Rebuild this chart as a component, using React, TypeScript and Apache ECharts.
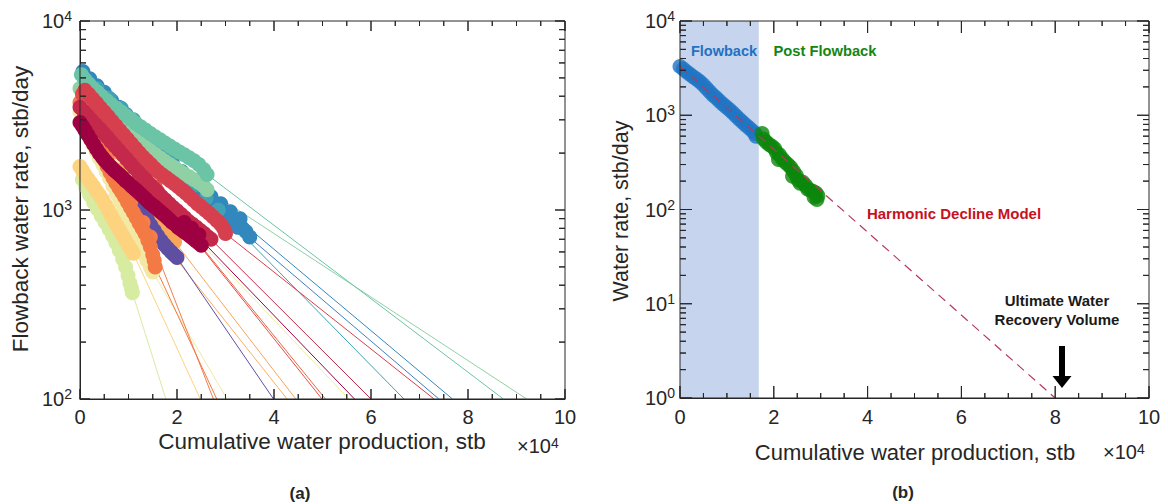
import React, { useEffect, useRef } from "react";
import * as echarts from "echarts";

// ---------- Data (x: cumulative water production in 1e4 stb, y: rate in stb/day) ----------
const xTickValues = [0, 2, 4, 6, 8, 10];
const xMinorTickValues = [0.5, 1, 1.5, 2.5, 3, 3.5, 4.5, 5, 5.5, 6.5, 7, 7.5, 8.5, 9, 9.5];
const yMajorA = [100, 1000, 10000];
const yMinorA = [200, 300, 400, 500, 600, 700, 800, 900, 2000, 3000, 4000, 5000, 6000, 7000, 8000, 9000];
const yMajorB = [1, 10, 100, 1000, 10000];
const yMinorB = [2, 3, 4, 5, 6, 7, 8, 9, 20, 30, 40, 50, 60, 70, 80, 90, 200, 300, 400, 500, 600, 700, 800, 900, 2000, 3000, 4000, 5000, 6000, 7000, 8000, 9000];

const wellBlue2 = [[0.15, 4700], [0.4, 4150], [0.65, 3650], [0.9, 3200], [1.15, 2800], [1.4, 2450], [1.65, 2100], [1.9, 1800], [2.15, 1520], [2.4, 1300], [2.65, 1120], [2.9, 980], [3.1, 880], [3.25, 810]];
const wellBlue1 = [[0.06, 5400], [0.2, 4950], [0.35, 4550], [0.5, 4200], [0.65, 3800], [0.8, 3500], [0.95, 3200], [1.1, 2900], [1.25, 2650], [1.4, 2420], [1.55, 2200], [1.7, 1980], [1.85, 1760], [1.95, 1620], [2.05, 1520], [2.15, 1420], [2.25, 1340], [2.35, 1270], [2.45, 1200], [2.55, 1150], [2.65, 1100], [2.75, 1060], [2.85, 1010], [2.95, 960], [3.05, 930], [3.15, 890], [3.25, 850], [3.35, 800], [3.42, 770], [3.5, 720], [3.3, 900], [3.1, 980], [2.9, 1080], [2.7, 1180]];
const wellTealBlue = [[0.1, 4900], [0.35, 4400], [0.6, 3900], [0.85, 3450], [1.1, 3000], [1.35, 2600], [1.6, 2250], [1.85, 1900], [2.1, 1600], [2.35, 1350], [2.6, 1150], [2.85, 1000]];
const wellGreenB = [[0.0, 4400], [0.08, 4150], [0.16, 3950], [0.25, 3750], [0.35, 3550], [0.45, 3380], [0.55, 3200], [0.65, 3020], [0.75, 2870], [0.85, 2720], [0.95, 2580], [1.05, 2460], [1.15, 2350], [1.25, 2250], [1.35, 2160], [1.45, 2060], [1.55, 1970], [1.65, 1890], [1.75, 1810], [1.85, 1740], [1.95, 1680], [2.05, 1610], [2.15, 1550], [2.25, 1500], [2.35, 1450], [2.45, 1400], [2.55, 1340], [2.62, 1280]];
const wellGreenA = [[0.03, 5200], [0.1, 4900], [0.18, 4650], [0.27, 4400], [0.36, 4200], [0.45, 4000], [0.55, 3800], [0.65, 3600], [0.75, 3450], [0.85, 3300], [0.95, 3150], [1.05, 3020], [1.15, 2880], [1.25, 2760], [1.35, 2650], [1.45, 2540], [1.55, 2440], [1.65, 2350], [1.75, 2260], [1.85, 2180], [1.95, 2100], [2.05, 2030], [2.15, 1960], [2.25, 1890], [2.35, 1820], [2.45, 1740], [2.55, 1640], [2.62, 1540]];
const wellLightGreen = [[0.05, 1450], [0.12, 1320], [0.2, 1200], [0.28, 1100], [0.36, 1010], [0.44, 930], [0.52, 860], [0.6, 790], [0.67, 730], [0.74, 670], [0.81, 610], [0.88, 550], [0.94, 500], [0.99, 450], [1.03, 410], [1.06, 385], [1.08, 365]];
const wellPaleGreen = [[0.2, 2600], [0.5, 2100], [0.8, 1700], [1.1, 1400], [1.4, 1150], [1.7, 980], [2.0, 860], [2.25, 780]];
const wellLightYellow = [[0.0, 3300], [0.06, 3000], [0.12, 2700], [0.19, 2450], [0.26, 2230], [0.33, 2050], [0.4, 1880], [0.47, 1740], [0.54, 1600], [0.61, 1470], [0.68, 1340], [0.75, 1220], [0.82, 1110], [0.89, 1010], [0.96, 920], [1.03, 840], [1.1, 770], [1.17, 700], [1.24, 640], [1.31, 585], [1.38, 540], [1.45, 500], [1.5, 470]];
const wellYellow = [[0.0, 1700], [0.05, 1620], [0.1, 1540], [0.16, 1470], [0.22, 1400], [0.28, 1330], [0.34, 1260], [0.4, 1200], [0.46, 1140], [0.52, 1070], [0.58, 1000], [0.64, 940], [0.7, 880], [0.76, 830], [0.82, 780], [0.88, 735], [0.94, 690], [1.0, 650], [1.05, 620], [1.1, 590]];
const wellLightOrange1 = [[0.3, 2300], [0.5, 1950], [0.7, 1650], [0.9, 1400], [1.1, 1180], [1.3, 980], [1.4, 900], [1.5, 820], [1.58, 770], [1.65, 720], [1.72, 680], [1.76, 650]];
const wellLightOrange2 = [[0.4, 2400], [0.65, 2000], [0.9, 1650], [1.15, 1350], [1.4, 1100], [1.6, 930], [1.7, 860], [1.8, 780], [1.88, 730], [1.95, 680]];
const wellPurple = [[0.9, 1350], [0.97, 1270], [1.04, 1200], [1.11, 1130], [1.18, 1070], [1.25, 1010], [1.32, 950], [1.39, 890], [1.46, 830], [1.53, 780], [1.6, 730], [1.67, 690], [1.74, 655], [1.81, 625], [1.88, 600], [1.94, 580], [2.0, 560]];
const wellOrange2 = [[0.05, 3400], [0.3, 2500], [0.55, 1900], [0.8, 1450], [1.05, 1120], [1.3, 860], [1.45, 720]];
const wellOrange1 = [[0.0, 3700], [0.05, 3450], [0.1, 3200], [0.15, 2980], [0.2, 2780], [0.26, 2580], [0.32, 2380], [0.38, 2180], [0.44, 2000], [0.5, 1840], [0.56, 1700], [0.62, 1580], [0.68, 1480], [0.74, 1390], [0.8, 1310], [0.86, 1240], [0.92, 1170], [0.98, 1100], [1.04, 1030], [1.1, 970], [1.16, 910], [1.22, 850], [1.28, 800], [1.34, 750], [1.4, 690], [1.45, 640], [1.5, 580], [1.53, 540], [1.55, 500]];
const wellRedOrange2 = [[0.1, 3800], [0.35, 3200], [0.6, 2700], [0.85, 2250], [1.1, 1850], [1.35, 1520], [1.6, 1250], [1.85, 1020], [2.05, 880], [2.2, 800]];
const wellRedOrange1 = [[0.05, 4100], [0.3, 3450], [0.55, 2900], [0.8, 2400], [1.05, 1980], [1.3, 1620], [1.55, 1320], [1.8, 1080], [2.0, 920], [2.12, 840]];
const wellRed = [[0.1, 4300], [0.18, 4100], [0.26, 3880], [0.34, 3680], [0.42, 3480], [0.5, 3300], [0.58, 3120], [0.66, 2950], [0.74, 2790], [0.82, 2640], [0.9, 2500], [0.98, 2370], [1.06, 2240], [1.14, 2120], [1.22, 2010], [1.3, 1910], [1.38, 1820], [1.46, 1740], [1.54, 1660], [1.62, 1590], [1.7, 1530], [1.78, 1480], [1.86, 1430], [1.94, 1380], [2.02, 1330], [2.1, 1280], [2.18, 1230], [2.26, 1180], [2.34, 1130], [2.42, 1080], [2.5, 1040], [2.58, 1000], [2.66, 960], [2.74, 920], [2.82, 880], [2.9, 840], [2.96, 800], [3.0, 750]];
const wellCrimson = [[0.0, 3500], [0.08, 3320], [0.16, 3150], [0.24, 2990], [0.32, 2840], [0.4, 2700], [0.48, 2560], [0.56, 2430], [0.64, 2300], [0.72, 2180], [0.8, 2070], [0.88, 1960], [0.96, 1860], [1.04, 1760], [1.12, 1670], [1.2, 1590], [1.28, 1510], [1.36, 1440], [1.44, 1370], [1.52, 1300], [1.6, 1240], [1.68, 1180], [1.76, 1130], [1.84, 1080], [1.92, 1030], [2.0, 990], [2.08, 950], [2.16, 910], [2.24, 870], [2.32, 840], [2.4, 810], [2.48, 780], [2.56, 750], [2.64, 720], [2.7, 700]];
const wellDarkRed = [[0.0, 2900], [0.05, 2780], [0.1, 2650], [0.16, 2500], [0.22, 2360], [0.28, 2230], [0.34, 2100], [0.4, 1990], [0.46, 1900], [0.52, 1820], [0.58, 1750], [0.64, 1690], [0.7, 1630], [0.76, 1580], [0.82, 1530], [0.88, 1480], [0.94, 1430], [1.0, 1390], [1.06, 1340], [1.12, 1300], [1.18, 1260], [1.24, 1220], [1.3, 1180], [1.36, 1140], [1.42, 1100], [1.48, 1070], [1.54, 1040], [1.6, 1010], [1.66, 980], [1.72, 950], [1.78, 920], [1.84, 890], [1.9, 860], [1.96, 840], [2.02, 810], [2.08, 790], [2.14, 770], [2.2, 750], [2.26, 730], [2.32, 710], [2.38, 690], [2.44, 670], [2.5, 650], [2.45, 740], [2.3, 800], [2.15, 860]];

// x where each well's fitted decline line reaches 100 stb/day
const interceptBlue2 = 7.4;
const interceptBlue1 = 7.68;
const interceptTealBlue = 6.68;
const interceptGreenB = 9.21;
const interceptGreenA = 8.73;
const interceptLightGreen = 1.77;
const interceptPaleGreen = 5.54;
const interceptLightYellow = 3.03;
const interceptYellow = 2.48;
const interceptLightOrange1 = 4.27;
const interceptLightOrange2 = 4.45;
const interceptPurple = 3.99;
const interceptOrange2 = 2.75;
const interceptOrange1 = 2.82;
const interceptRedOrange2 = 5.06;
const interceptRedOrange1 = 4.99;
const interceptRed = 7.3;
const interceptCrimson = 6.0;
const interceptDarkRed = 5.66;

// Panel (b)
const flowbackBlue = [[0, 3300], [0.07, 3100], [0.14, 2900], [0.21, 2720], [0.28, 2560], [0.35, 2420], [0.42, 2280], [0.49, 2120], [0.56, 1950], [0.63, 1790], [0.7, 1640], [0.77, 1530], [0.84, 1420], [0.91, 1320], [0.98, 1230], [1.05, 1150], [1.12, 1070], [1.19, 990], [1.26, 915], [1.33, 850], [1.4, 790], [1.47, 735], [1.54, 685], [1.6, 640], [1.62, 600]];
const postFlowbackGreen = [[1.75, 640], [1.78, 560], [1.84, 520], [1.9, 490], [1.96, 470], [2.02, 440], [2.06, 400], [2.12, 380], [2.1, 340], [2.18, 345], [2.24, 320], [2.3, 300], [2.36, 280], [2.42, 255], [2.4, 225], [2.48, 230], [2.52, 205], [2.56, 190], [2.62, 195], [2.68, 180], [2.72, 165], [2.78, 160], [2.84, 155], [2.9, 150], [2.94, 140], [2.92, 128], [2.86, 135]];
const harmonicFit = [[0, 3300], [8.0, 1]];
const flowbackEndX = 1.68;

// ---------- Styles ----------
const FONT = '"Liberation Sans", Arial, Helvetica, sans-serif';
const INK = "#262626";
const GRID_A = { left: 80, top: 21, width: 485, height: 378 };
const GRID_B = { left: 680, top: 21, width: 469, height: 377 };

const wells = [
  { data: wellBlue2, end: interceptBlue2, color: "#4080c0" },
  { data: wellBlue1, end: interceptBlue1, color: "#3288bd" },
  { data: wellTealBlue, end: interceptTealBlue, color: "#3fa2b6" },
  { data: wellGreenB, end: interceptGreenB, color: "#8fd1a4" },
  { data: wellGreenA, end: interceptGreenA, color: "#6cc4a6" },
  { data: wellLightGreen, end: interceptLightGreen, color: "#d7eca0" },
  { data: wellPaleGreen, end: interceptPaleGreen, color: "#e8f0a2" },
  { data: wellLightYellow, end: interceptLightYellow, color: "#f2e9a5" },
  { data: wellYellow, end: interceptYellow, color: "#fdd380" },
  { data: wellLightOrange1, end: interceptLightOrange1, color: "#fdae61" },
  { data: wellLightOrange2, end: interceptLightOrange2, color: "#f9a55a" },
  { data: wellPurple, end: interceptPurple, color: "#5e4fa2" },
  { data: wellOrange2, end: interceptOrange2, color: "#f67e4a" },
  { data: wellOrange1, end: interceptOrange1, color: "#f47a45" },
  { data: wellRedOrange2, end: interceptRedOrange2, color: "#ec6446" },
  { data: wellRedOrange1, end: interceptRedOrange1, color: "#e04f47" },
  { data: wellRed, end: interceptRed, color: "#d6404e" },
  { data: wellCrimson, end: interceptCrimson, color: "#c4294b" },
  { data: wellDarkRed, end: interceptDarkRed, color: "#9e0142" },
];

const supFormatter = (v: number) => `{b|10}{s|${Math.round(Math.log10(v))}}`;
const supRich = {
  b: { fontSize: 20, fontFamily: FONT, color: INK, lineHeight: 24 },
  s: { fontSize: 14, fontFamily: FONT, color: INK, lineHeight: 14, verticalAlign: "top" },
};

function xAxisDef(gridIndex: number, margin: number) {
  return {
    type: "value",
    gridIndex,
    position: "bottom",
    min: 0,
    max: 10,
    interval: 2,
    axisLine: { show: true, onZero: false, lineStyle: { color: INK, width: 1 } },
    axisTick: { show: false },
    splitLine: { show: false },
    axisLabel: {
      margin,
      fontSize: 20,
      fontFamily: FONT,
      color: INK,
      formatter: (v: number) => (xTickValues.indexOf(v) >= 0 ? String(v) : ""),
    },
  };
}

function yAxisDef(gridIndex: number, min: number, max: number, margin: number) {
  return {
    type: "log",
    logBase: 10,
    gridIndex,
    position: "left",
    min,
    max,
    axisLine: { show: true, onZero: false, lineStyle: { color: INK, width: 1 } },
    axisTick: { show: false },
    splitLine: { show: false },
    axisLabel: { margin, formatter: supFormatter, rich: supRich },
  };
}

// Box frame with inward ticks on all four sides, traced as ONE polyline in data
// coordinates (each tick is an out-and-back spike from the frame edge).
function framePolyline(grid: any, yMin: number, yMax: number, yMajor: number[], yMinor: number[], majLen: number, minLen: number) {
  const pxPerDecade = grid.height / Math.log10(yMax / yMin);
  const xPerPx = 10 / grid.width;
  const xs = [...xTickValues.map((v) => [v, majLen]), ...xMinorTickValues.map((v) => [v, minLen])].sort((a, b) => a[0] - b[0]);
  const ys = [...yMajor.map((v) => [v, majLen]), ...yMinor.map((v) => [v, minLen + 1])].sort((a, b) => a[0] - b[0]);
  const pts: number[][] = [];
  xs.forEach(([v, len]) => {
    const f = Math.pow(10, len / pxPerDecade);
    pts.push([v, yMin], [v, yMin * f], [v, yMin]);
  });
  ys.forEach(([v, len]) => {
    pts.push([10, v], [10 - len * xPerPx, v], [10, v]);
  });
  xs.slice().reverse().forEach(([v, len]) => {
    const f = Math.pow(10, len / pxPerDecade);
    pts.push([v, yMax], [v, yMax / f], [v, yMax]);
  });
  ys.slice().reverse().forEach(([v, len]) => {
    pts.push([0, v], [len * xPerPx, v], [0, v]);
  });
  pts.push([0, yMin]);
  return pts;
}

function text(x: number, y: number, t: string, size: number, opts: any = {}) {
  const style: any = {
    text: t,
    fontSize: size,
    fontFamily: FONT,
    fontWeight: opts.bold ? "bold" : "normal",
    fill: opts.color || INK,
    align: opts.align || "center",
    verticalAlign: "middle",
  };
  if (opts.lineHeight) style.lineHeight = opts.lineHeight;
  if (opts.rich) style.rich = opts.rich;
  return { type: "text", x, y, rotation: opts.rotation || 0, z: 20, style };
}

const supTextRich = { s: { fontSize: 14, fontFamily: FONT, fill: INK, verticalAlign: "top", lineHeight: 14 } };

export default function App() {
  const ref = useRef<HTMLDivElement>(null);

  useEffect(() => {
    document.body.style.margin = "0";
    const chart = echarts.init(ref.current!, undefined, { renderer: "svg" });

    const series: any[] = [];
    wells.forEach((w) => {
      const last = w.data[w.data.length - 1];
      series.push({
        type: "line",
        xAxisIndex: 0,
        yAxisIndex: 0,
        data: [[last[0], last[1]], [w.end, 100]],
        showSymbol: false,
        clip: false,
        z: 2,
        lineStyle: { color: w.color, width: 1 },
      });
    });
    wells.forEach((w) => {
      series.push({
        type: "scatter",
        xAxisIndex: 0,
        yAxisIndex: 0,
        data: w.data,
        symbolSize: 15,
        clip: false,
        z: 3,
        itemStyle: { color: w.color, opacity: 1 },
      });
    });

    series.push({
      type: "scatter",
      xAxisIndex: 1,
      yAxisIndex: 1,
      data: flowbackBlue,
      symbolSize: 15,
      clip: false,
      z: 3,
      itemStyle: { color: "#1f74c3" },
      markArea: {
        silent: true,
        itemStyle: { color: "#c6d4ee" },
        data: [[{ xAxis: 0 }, { xAxis: flowbackEndX }]],
      },
    });
    series.push({ type: "scatter", xAxisIndex: 1, yAxisIndex: 1, data: postFlowbackGreen, symbolSize: 15, clip: false, z: 3, itemStyle: { color: "#0b870b" } });
    series.push({
      type: "line",
      xAxisIndex: 1,
      yAxisIndex: 1,
      data: harmonicFit,
      showSymbol: false,
      clip: false,
      z: 4,
      lineStyle: { color: "#b8395b", width: 1.2, type: [9, 6] },
    });

    const frameLine = { color: INK, width: 1, cap: "butt", join: "bevel" };
    series.push({
      type: "line",
      xAxisIndex: 0,
      yAxisIndex: 0,
      data: framePolyline(GRID_A, 100, 10000, yMajorA, yMinorA, 10, 5),
      showSymbol: false,
      symbol: "none",
      clip: false,
      z: 10,
      lineStyle: frameLine,
    });
    series.push({
      type: "line",
      xAxisIndex: 1,
      yAxisIndex: 1,
      data: framePolyline(GRID_B, 1, 10000, yMajorB, yMinorB, 12, 5),
      showSymbol: false,
      symbol: "none",
      clip: false,
      z: 10,
      lineStyle: frameLine,
    });

    const option: any = {
      animation: false,
      backgroundColor: "#ffffff",
      grid: [GRID_A, GRID_B],
      xAxis: [xAxisDef(0, 8), xAxisDef(1, 9)],
      yAxis: [yAxisDef(0, 100, 10000, 8), yAxisDef(1, 1, 10000, 5)],
      series,
      graphic: [
        text(20, 209, "Flowback water rate, stb/day", 22.5, { rotation: Math.PI / 2 }),
        text(322, 441, "Cumulative water production, stb", 22.5),
        text(517, 446, "×10{s|4}", 20, { align: "left", rich: supTextRich }),
        text(300, 493, "(a)", 17, { bold: true }),
        text(621, 211, "Water rate, stb/day", 21.5, { rotation: Math.PI / 2 }),
        text(915, 452, "Cumulative water production, stb", 22),
        text(1103, 452, "×10{s|4}", 20, { align: "left", rich: supTextRich }),
        text(903, 492, "(b)", 17, { bold: true }),
        text(724, 51, "Flowback", 14.5, { bold: true, color: "#1f72c2" }),
        text(825, 51, "Post Flowback", 14.7, { bold: true, color: "#138613" }),
        text(954, 213, "Harmonic Decline Model", 15, { bold: true, color: "#c8101e" }),
        text(1057, 310, "Ultimate Water\nRecovery Volume", 15, { bold: true, color: "#1a1a1a", lineHeight: 19 }),
        { type: "rect", z: 20, shape: { x: 1059, y: 346, width: 6, height: 31 }, style: { fill: "#000000" } },
        { type: "polygon", z: 20, shape: { points: [[1052.5, 376], [1071.5, 376], [1062, 388]] }, style: { fill: "#000000" } },
      ],
    };

    chart.setOption(option);
    return () => chart.dispose();
  }, []);

  return <div ref={ref} style={{ width: 1168, height: 504 }} />;
}
